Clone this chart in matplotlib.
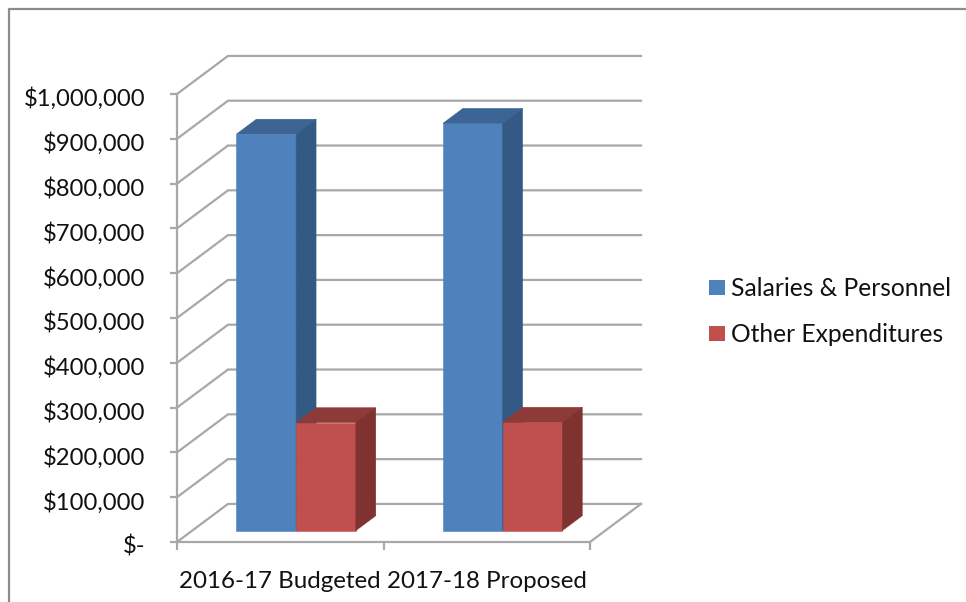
import matplotlib.pyplot as plt
from matplotlib.lines import Line2D
from matplotlib.patches import Patch, Polygon
from matplotlib.transforms import ScaledTranslation

plt.rcParams['font.family'] = ['Lato', 'DejaVu Sans']

categories = ["2016-17 Budgeted", "2017-18 Proposed"]
salaries = [885000, 909000]
other = [241000, 242000]
y_ticks = [0, 100000, 200000, 300000, 400000, 500000, 600000, 700000, 800000, 900000, 1000000]
y_labels = ["$-", "$100,000", "$200,000", "$300,000", "$400,000", "$500,000",
            "$600,000", "$700,000", "$800,000", "$900,000", "$1,000,000"]

W, H = 966, 602
GRID = "#a8a8a8"

# 3D look: how far the back wall sits from the front plane, in axis units
DEPTH_X = 0.247
DEPTH_Y = 85000
BAR_W = 0.289
BAR_START = 0.30   # fraction of the depth where the bar front sits
BAR_DEPTH = 0.39   # fraction of the depth the bar takes up
GROUP_LEFT = 0.288 # where the bar fronts start within a category


def draw_bar(ax, x0, value, front, top, side):
    dx = DEPTH_X * BAR_DEPTH
    dy = DEPTH_Y * BAR_DEPTH
    x1 = x0 + BAR_W
    y0 = DEPTH_Y * BAR_START
    y1 = value + y0
    faces = [
        ([(x0, y0), (x1, y0), (x1, y1), (x0, y1)], front),
        ([(x0, y1), (x1, y1), (x1 + dx, y1 + dy), (x0 + dx, y1 + dy)], top),
        ([(x1, y0), (x1 + dx, y0 + dy), (x1 + dx, y1 + dy), (x1, y1)], side),
    ]
    for pts, color in faces:
        ax.add_patch(Polygon(pts, closed=True, facecolor=color, edgecolor=color,
                             linewidth=0.4, zorder=3, clip_on=False))


fig = plt.figure(figsize=(W / 100, H / 100), dpi=100, facecolor="white")
ax = fig.add_axes([177 / W, 1 - 542 / H, 413 / W, 448 / H])
ax.set_xlim(0, 2)
ax.set_ylim(0, 1000000)

# gridlines run along the side wall, then across the back wall
for v in y_ticks:
    ax.plot([0, DEPTH_X, 2 + DEPTH_X], [v, v + DEPTH_Y, v + DEPTH_Y], color=GRID,
            linewidth=1.6, zorder=1, clip_on=False, solid_joinstyle="miter")
# right edge of the floor
ax.plot([2, 2 + DEPTH_X], [0, DEPTH_Y], color=GRID, linewidth=1.6, zorder=1, clip_on=False)

for i in range(len(categories)):
    draw_bar(ax, i + GROUP_LEFT, salaries[i], "#4f81bd", "#3c6494", "#335a85")
    draw_bar(ax, i + GROUP_LEFT + BAR_W, other[i], "#c0504d", "#8e3a38", "#7f3230")

for name in ["top", "right"]:
    ax.spines[name].set_visible(False)
for name in ["left", "bottom"]:
    ax.spines[name].set_color(GRID)
    ax.spines[name].set_linewidth(1.6)

ax.set_yticks(y_ticks)
ax.set_yticklabels(y_labels, fontsize=17.2, color="#111111")
ax.tick_params(axis="y", length=5, width=1.6, color=GRID, pad=18)
# value labels sit a little below their ticks
shift_down = ScaledTranslation(0, -3 / 100, fig.dpi_scale_trans)
for label in ax.get_yticklabels():
    label.set_transform(label.get_transform() + shift_down)

ax.set_xticks([0, 1, 2])
ax.set_xticklabels([])
ax.set_xticks([0.5, 1.5], minor=True)
ax.set_xticklabels(categories, minor=True, fontsize=17.4, color="#111111")
ax.tick_params(axis="x", which="major", length=6, width=1.6, color=GRID)
ax.tick_params(axis="x", which="minor", length=0, pad=21)

handles = [Patch(facecolor="#4f81bd", label="Salaries & Personnel"),
           Patch(facecolor="#c0504d", label="Other Expenditures")]
fig.legend(handles=handles, loc="center left", bbox_to_anchor=(709 / W, 1 - 311.5 / H),
           frameon=False, fontsize=17.7, handlelength=0.65, handleheight=0.57,
           handletextpad=0.25, labelspacing=0.95, labelcolor="#111111",
           borderpad=0, borderaxespad=0)

# chart area border, cut off at the right and bottom of the image
fig.add_artist(Line2D([9 / W, 9 / W, 1], [0, 1 - 9 / H, 1 - 9 / H], color="#8c8c8c", linewidth=1.6))

fig.savefig("out.png", dpi=100)
